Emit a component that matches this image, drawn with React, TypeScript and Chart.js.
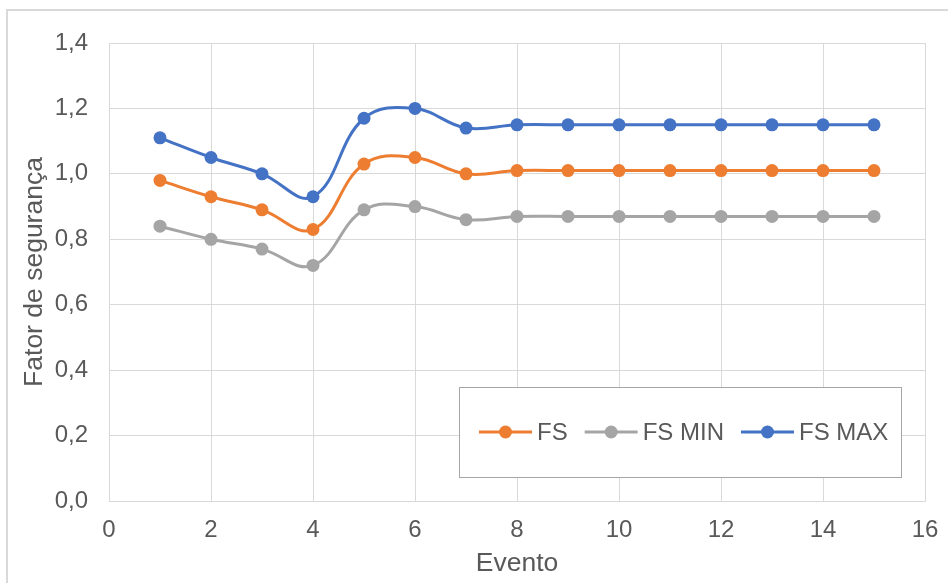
import React, { useEffect, useRef } from "react";
import { Chart, registerables } from "chart.js";

Chart.register(...registerables);

const eventos = [1, 2, 3, 4, 5, 6, 7, 8, 9, 10, 11, 12, 13, 14, 15];
const fs = [0.98, 0.93, 0.89, 0.83, 1.03, 1.05, 1.0, 1.01, 1.01, 1.01, 1.01, 1.01, 1.01, 1.01, 1.01];
const fsMin = [0.84, 0.8, 0.77, 0.72, 0.89, 0.9, 0.86, 0.87, 0.87, 0.87, 0.87, 0.87, 0.87, 0.87, 0.87];
const fsMax = [1.11, 1.05, 1.0, 0.93, 1.17, 1.2, 1.14, 1.15, 1.15, 1.15, 1.15, 1.15, 1.15, 1.15, 1.15];
const seriesNames = ["FS", "FS MIN", "FS MAX"];
const seriesColors = ["#ED7D31", "#A5A5A5", "#4472C4"];
const xTitle = "Evento";
const yTitle = "Fator de segurança";

const FONT = "'Liberation Sans', Arial, sans-serif";
const TEXT = "#595959";
const GRID = "#d9d9d9";

const boxLegend = {
  id: "boxLegend",
  afterDraw(chart: any) {
    const ctx = chart.ctx;
    const bx = 459, by = 387, bw = 442, bh = 90;
    ctx.save();
    ctx.fillStyle = "#ffffff";
    ctx.fillRect(bx, by, bw, bh);
    ctx.strokeStyle = "#a6a6a6";
    ctx.lineWidth = 1;
    ctx.strokeRect(bx + 0.5, by + 0.5, bw, bh);
    ctx.font = `24px ${FONT}`;
    ctx.textBaseline = "middle";
    ctx.textAlign = "left";
    const cy = by + bh / 2;
    let x = 479;
    chart.data.datasets.forEach((ds: any) => {
      ctx.strokeStyle = ds.borderColor;
      ctx.lineWidth = 3;
      ctx.beginPath();
      ctx.moveTo(x, cy);
      ctx.lineTo(x + 53, cy);
      ctx.stroke();
      ctx.fillStyle = ds.borderColor;
      ctx.beginPath();
      ctx.arc(x + 26.5, cy, 6.5, 0, Math.PI * 2);
      ctx.fill();
      ctx.fillStyle = TEXT;
      ctx.fillText(ds.label, x + 58, cy + 1);
      x += 58 + ctx.measureText(ds.label).width + 17;
    });
    ctx.restore();
  },
};

export default function App() {
  const ref = useRef<HTMLCanvasElement | null>(null);
  useEffect(() => {
    if (!ref.current) return;
    const values = [fs, fsMin, fsMax];
    const chart = new Chart(ref.current, {
      type: "line",
      data: {
        datasets: seriesNames.map((name, i) => ({
          label: name,
          data: eventos.map((e, j) => ({ x: e, y: values[i][j] })),
          borderColor: seriesColors[i],
          backgroundColor: seriesColors[i],
          pointBackgroundColor: seriesColors[i],
          pointBorderColor: seriesColors[i],
          pointRadius: 6.5,
          pointBorderWidth: 0,
          borderWidth: 3,
          tension: 0.4,
          fill: false,
        })),
      },
      options: {
        responsive: false,
        animation: false,
        events: [],
        layout: { padding: { top: 43, right: 23, left: 0, bottom: 0 } },
        plugins: { legend: { display: false }, tooltip: { enabled: false } },
        scales: {
          x: {
            type: "linear",
            min: 0,
            max: 16,
            afterFit: (s: any) => {
              s.height = 82;
              s.paddingRight = 0;
              s.paddingLeft = 0;
            },
            ticks: {
              stepSize: 2,
              padding: 15,
              color: TEXT,
              font: { family: FONT, size: 24 },
              maxRotation: 0,
            },
            grid: { color: GRID, lineWidth: 1, drawTicks: false },
            border: { color: GRID, width: 1 },
            title: {
              display: true,
              text: xTitle,
              color: TEXT,
              font: { family: FONT, size: 26.5 },
              padding: { top: 0, bottom: 3 },
            },
          },
          y: {
            min: 0,
            max: 1.4,
            afterFit: (s: any) => {
              s.width = 109;
              s.paddingTop = 0;
              s.paddingBottom = 0;
            },
            ticks: {
              stepSize: 0.2,
              padding: 21,
              color: TEXT,
              font: { family: FONT, size: 24 },
              callback: (v: any) => Number(v).toFixed(1).replace(".", ","),
            },
            grid: { color: GRID, lineWidth: 1, drawTicks: false },
            border: { color: GRID, width: 1 },
            title: {
              display: true,
              text: yTitle,
              color: TEXT,
              font: { family: FONT, size: 26.5 },
              padding: { top: 19, bottom: 0 },
            },
          },
        },
      },
      plugins: [boxLegend],
    });
    return () => chart.destroy();
  }, []);

  return (
    <div style={{ position: "fixed", left: 0, top: 0, width: 948, height: 583, overflow: "hidden", background: "#fff" }}>
      <div style={{ position: "absolute", left: 6, top: 9, width: 1000, height: 1000, border: "2px solid #d9d9d9" }} />
      <canvas ref={ref} width={948} height={583} style={{ position: "absolute", left: 0, top: 0, width: 948, height: 583 }} />
    </div>
  );
}
